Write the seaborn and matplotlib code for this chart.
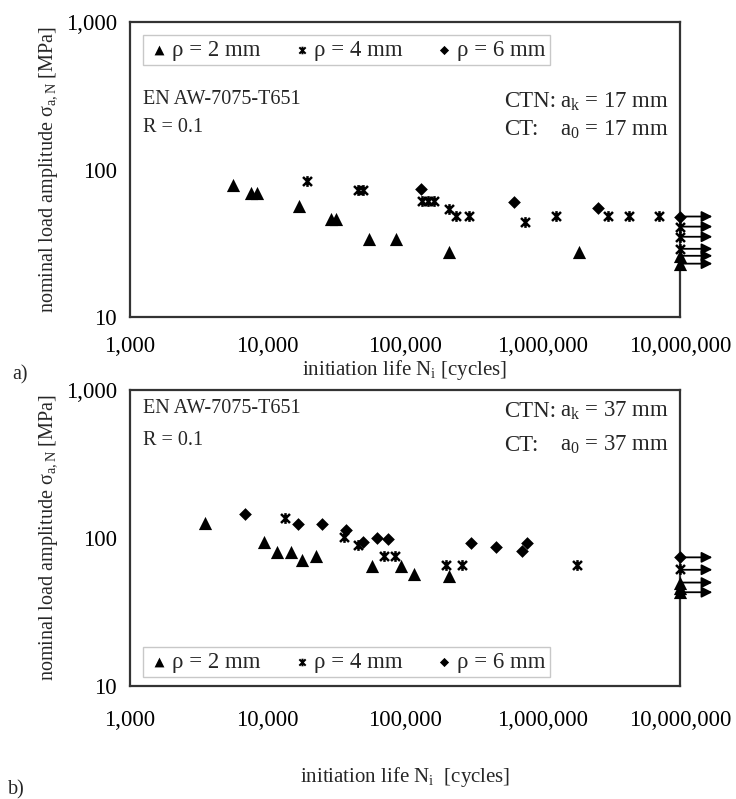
import numpy as np
import pandas as pd
import matplotlib
matplotlib.use("Agg")
import matplotlib.pyplot as plt
from matplotlib.path import Path
import seaborn as sns

# ---------------- data ----------------
# chart a)  a_k = a_0 = 17 mm
a_rho2_N = [5600, 7600, 8400, 17000, 28800, 31300, 54600, 86000, 209000, 1830000]
a_rho2_S = [78, 69, 69, 57, 46, 46, 34, 34, 27.5, 27.5]
a_rho4_N = [19300, 45400, 49300, 133000, 147000, 163000, 209000, 235000, 293000,
            740000, 1260000, 2980000, 4240000, 7030000]
a_rho4_S = [84, 73, 73, 61, 61, 61, 54, 48.5, 48.5, 44, 48.5, 48.5, 48.5, 48.5]
a_rho6_N = [131000, 625000, 2520000]
a_rho6_S = [74, 60, 55]
# run-outs at 10^7 cycles
a_run_rho2 = [26, 23]
a_run_rho4 = [41, 35, 29]
a_run_rho6 = [48]

# chart b)  a_k = a_0 = 37 mm
b_rho2_N = [3500, 9500, 11800, 14900, 17900, 22700, 57400, 93500, 116000, 208000]
b_rho2_S = [126, 94, 80, 80, 71, 75, 65, 65, 57, 55]
b_rho4_N = [13500, 36000, 45600, 70600, 84900, 199000, 261000, 1770000]
b_rho4_S = [136, 101, 89, 75, 75, 66, 66, 66]
b_rho6_N = [6900, 16600, 24800, 37100, 49700, 62100, 75500, 303000, 461000, 714000, 773000]
b_rho6_S = [146, 124, 124, 114, 94, 100, 98, 93, 87, 82, 93]
b_run_rho2 = [50, 46, 43]
b_run_rho4 = [62]
b_run_rho6 = [74]
b_arrows = [74, 61, 50, 43]

RUNOUT_N = 1e7
x_ticks = [1e3, 1e4, 1e5, 1e6, 1e7]
x_ticklabels = ["1,000", "10,000", "100,000", "1,000,000", "10,000,000"]
y_ticks = [10, 100, 1000]
y_ticklabels = ["10", "100", "1,000"]
labels = ["ρ = 2 mm", "ρ = 4 mm", "ρ = 6 mm"]

# ---------------- style ----------------
sns.set_theme(style="white")
plt.rcParams["font.family"] = ["Liberation Serif", "DejaVu Serif"]
plt.rcParams["mathtext.fontset"] = "custom"
plt.rcParams["mathtext.rm"] = "Liberation Serif"
plt.rcParams["mathtext.it"] = "Liberation Serif"
plt.rcParams["mathtext.bf"] = "Liberation Serif"

# star marker (X with a vertical stroke)
star = Path([(-1, -1), (1, 1), (-1, 1), (1, -1), (0, -1.2), (0, 1.2)],
            [Path.MOVETO, Path.LINETO, Path.MOVETO, Path.LINETO, Path.MOVETO, Path.LINETO])

FS = 14.5       # annotation / axis-label text
FS_TICK = 16.5  # tick labels
FS_LEG = 16.5   # legend
FS_R = 16.5     # right-hand annotations

fig = plt.figure(figsize=(7.36, 7.99), dpi=100)
ax_a = fig.add_axes([130 / 736, 1 - 317 / 799, 550 / 736, 295 / 799])
ax_b = fig.add_axes([130 / 736, 1 - 686 / 799, 550 / 736, 296 / 799])


def build(N2, S2, N4, S4, N6, S6, r2, r4, r6):
    rows = []
    for n, s in zip(N2, S2):
        rows.append((n, s, labels[0]))
    for s in r2:
        rows.append((RUNOUT_N, s, labels[0]))
    for n, s in zip(N4, S4):
        rows.append((n, s, labels[1]))
    for s in r4:
        rows.append((RUNOUT_N, s, labels[1]))
    for n, s in zip(N6, S6):
        rows.append((n, s, labels[2]))
    for s in r6:
        rows.append((RUNOUT_N, s, labels[2]))
    return pd.DataFrame(rows, columns=["N", "S", "rho"])


def draw(ax, df, arrows, legend_loc, legend_anchor, xpad):
    specs = {labels[0]: dict(marker="^", s=90, linewidth=0, ls=50),
             labels[1]: dict(marker=star, s=60, linewidth=1.8, ls=30),
             labels[2]: dict(marker="D", s=42, linewidth=0, ls=22)}
    handles = []
    for lab in labels:
        sub = df[df["rho"] == lab]
        sp = specs[lab]
        sns.scatterplot(data=sub, x="N", y="S", ax=ax, marker=sp["marker"], s=sp["s"],
                        color="black", edgecolor="black", linewidth=sp["linewidth"],
                        clip_on=False, zorder=3, legend=False)
        h = ax.scatter([], [], marker=sp["marker"], s=sp["ls"], color="black",
                       edgecolor="black", linewidth=sp["linewidth"] * 0.8, label=lab)
        handles.append(h)
    for s in arrows:
        ax.annotate("", xy=(RUNOUT_N * 1.72, s), xytext=(RUNOUT_N, s),
                    xycoords="data", textcoords="data", annotation_clip=False,
                    arrowprops=dict(arrowstyle="-|>", color="black", lw=1.3,
                                    mutation_scale=16, shrinkA=0, shrinkB=0), zorder=4)
    ax.set_xscale("log")
    ax.set_yscale("log")
    ax.set_xlim(1e3, 1e7)
    ax.set_ylim(10, 1000)
    ax.set_xticks(x_ticks)
    ax.set_xticklabels(x_ticklabels)
    ax.set_yticks(y_ticks)
    ax.set_yticklabels(y_ticklabels)
    ax.minorticks_off()
    ax.tick_params(axis="both", which="major", direction="inout", length=9, width=1,
                   color="#888888", labelsize=FS_TICK, labelcolor="black")
    ax.tick_params(axis="x", pad=xpad)
    ax.tick_params(axis="y", pad=5)
    for sp_ in ax.spines.values():
        sp_.set_color("#333333")
        sp_.set_linewidth(1.6)
        sp_.set_visible(True)
    ax.set_ylabel("nominal load amplitude σ$_{a,N}$ [MPa]", fontsize=FS, labelpad=4)
    leg = ax.legend(handles=handles, loc=legend_loc, bbox_to_anchor=legend_anchor,
                    ncol=3, fontsize=FS_LEG, frameon=True, fancybox=False,
                    handletextpad=0.05, columnspacing=1.3, handlelength=1.0,
                    borderpad=0.2, borderaxespad=0.0)
    leg.get_frame().set_edgecolor("#bbbbbb")
    leg.get_frame().set_linewidth(1.0)


df_a = build(a_rho2_N, a_rho2_S, a_rho4_N, a_rho4_S, a_rho6_N, a_rho6_S,
             a_run_rho2, a_run_rho4, a_run_rho6)
df_b = build(b_rho2_N, b_rho2_S, b_rho4_N, b_rho4_S, b_rho6_N, b_rho6_S,
             b_run_rho2, b_run_rho4, b_run_rho6)
a_arrows = a_run_rho6 + a_run_rho4 + a_run_rho2

draw(ax_a, df_a, a_arrows, "upper left", (0.024, 0.956), 9)
draw(ax_b, df_b, b_arrows, "lower left", (0.024, 0.03), 13)

ax_a.set_xlabel("initiation life N$_\\mathrm{i}$ [cycles]", fontsize=15, labelpad=1)
ax_b.set_xlabel("initiation life N$_\\mathrm{i}$  [cycles]", fontsize=15, labelpad=24)

XC, XA = 0.680, 0.782  # left edges of "CTN:"/"CT:" and of the a-values

# annotations chart a
ax_a.text(0.024, 0.736, "EN AW-7075-T651", transform=ax_a.transAxes, fontsize=FS, va="center")
ax_a.text(0.024, 0.644, "R = 0.1", transform=ax_a.transAxes, fontsize=FS, va="center")
ax_a.text(XC, 0.729, "CTN:", transform=ax_a.transAxes, fontsize=FS_R, va="center")
ax_a.text(XA, 0.729, "a$_\\mathrm{k}$ = 17 mm", transform=ax_a.transAxes, fontsize=FS_R, va="center")
ax_a.text(XC, 0.634, "CT:", transform=ax_a.transAxes, fontsize=FS_R, va="center")
ax_a.text(XA, 0.634, "a$_\\mathrm{0}$ = 17 mm", transform=ax_a.transAxes, fontsize=FS_R, va="center")

# annotations chart b
ax_b.text(0.024, 0.939, "EN AW-7075-T651", transform=ax_b.transAxes, fontsize=FS, va="center")
ax_b.text(0.024, 0.831, "R = 0.1", transform=ax_b.transAxes, fontsize=FS, va="center")
ax_b.text(XC, 0.929, "CTN:", transform=ax_b.transAxes, fontsize=FS_R, va="center")
ax_b.text(XA, 0.929, "a$_\\mathrm{k}$ = 37 mm", transform=ax_b.transAxes, fontsize=FS_R, va="center")
ax_b.text(XC, 0.814, "CT:", transform=ax_b.transAxes, fontsize=FS_R, va="center")
ax_b.text(XA, 0.814, "a$_\\mathrm{0}$ = 37 mm", transform=ax_b.transAxes, fontsize=FS_R, va="center")

fig.text(0.016, 1 - 375 / 799, "a)", fontsize=FS, va="center")
fig.text(0.011, 1 - 790 / 799, "b)", fontsize=FS, va="center")

fig.savefig("out.png", dpi=100)
